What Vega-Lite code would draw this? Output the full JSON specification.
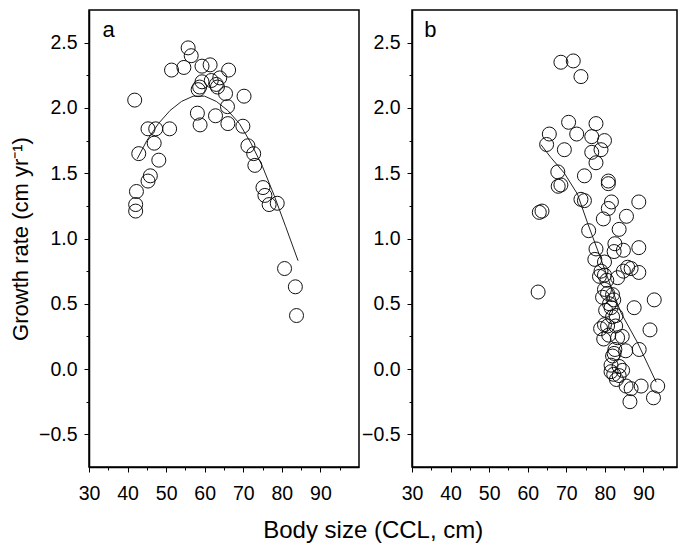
{
  "$schema": "https://vega.github.io/schema/vega-lite/v6.json",
  "background": "white",
  "padding": {"left": 8, "top": 9, "right": 0, "bottom": 0},
  "datasets": {
    "ptsA": [
      {"x": 41.85, "y": 2.06}, {"x": 55.7, "y": 2.46}, {"x": 56.5, "y": 2.40}, {"x": 51.4, "y": 2.29},
      {"x": 54.6, "y": 2.31}, {"x": 59.3, "y": 2.32}, {"x": 61.4, "y": 2.33}, {"x": 66.2, "y": 2.29},
      {"x": 63.9, "y": 2.23}, {"x": 61.7, "y": 2.21}, {"x": 59.3, "y": 2.20}, {"x": 58.7, "y": 2.16},
      {"x": 58.3, "y": 2.14}, {"x": 63.0, "y": 2.18}, {"x": 63.3, "y": 2.16}, {"x": 65.4, "y": 2.11},
      {"x": 70.2, "y": 2.09}, {"x": 65.9, "y": 2.01}, {"x": 58.1, "y": 1.96}, {"x": 58.8, "y": 1.87},
      {"x": 62.8, "y": 1.94}, {"x": 66.0, "y": 1.88}, {"x": 69.9, "y": 1.86}, {"x": 45.3, "y": 1.84},
      {"x": 47.3, "y": 1.84}, {"x": 50.9, "y": 1.84}, {"x": 46.9, "y": 1.73}, {"x": 42.9, "y": 1.65},
      {"x": 48.1, "y": 1.60}, {"x": 71.2, "y": 1.71}, {"x": 72.7, "y": 1.65}, {"x": 73.0, "y": 1.56},
      {"x": 45.9, "y": 1.48}, {"x": 45.3, "y": 1.44}, {"x": 42.3, "y": 1.36}, {"x": 42.1, "y": 1.26},
      {"x": 42.1, "y": 1.21}, {"x": 75.1, "y": 1.39}, {"x": 75.6, "y": 1.33}, {"x": 76.7, "y": 1.26},
      {"x": 78.8, "y": 1.27}, {"x": 80.7, "y": 0.77}, {"x": 83.5, "y": 0.63}, {"x": 83.8, "y": 0.41}
    ],
    "fitA": [
      {"x": 42.5, "y": 1.61}, {"x": 45, "y": 1.75}, {"x": 48, "y": 1.88}, {"x": 51, "y": 1.98},
      {"x": 54, "y": 2.05}, {"x": 57, "y": 2.09}, {"x": 60, "y": 2.09}, {"x": 63, "y": 2.05},
      {"x": 66, "y": 1.98}, {"x": 69, "y": 1.88}, {"x": 72, "y": 1.73}, {"x": 75, "y": 1.55},
      {"x": 78, "y": 1.33}, {"x": 81, "y": 1.09}, {"x": 84.2, "y": 0.83}
    ],
    "ptsB": [
      {"x": 68.6, "y": 2.35}, {"x": 71.8, "y": 2.36}, {"x": 73.8, "y": 2.24}, {"x": 70.6, "y": 1.89},
      {"x": 77.7, "y": 1.88}, {"x": 72.7, "y": 1.80}, {"x": 65.6, "y": 1.80}, {"x": 64.9, "y": 1.72},
      {"x": 76.6, "y": 1.78}, {"x": 79.9, "y": 1.75}, {"x": 69.5, "y": 1.68}, {"x": 79.0, "y": 1.68},
      {"x": 76.6, "y": 1.66}, {"x": 77.7, "y": 1.58}, {"x": 67.8, "y": 1.51}, {"x": 74.7, "y": 1.48},
      {"x": 80.9, "y": 1.44}, {"x": 80.9, "y": 1.42}, {"x": 67.9, "y": 1.40}, {"x": 68.6, "y": 1.41},
      {"x": 73.8, "y": 1.30}, {"x": 74.7, "y": 1.29}, {"x": 81.7, "y": 1.28}, {"x": 80.9, "y": 1.23},
      {"x": 88.8, "y": 1.28}, {"x": 63.0, "y": 1.20}, {"x": 63.7, "y": 1.21}, {"x": 85.6, "y": 1.17},
      {"x": 79.6, "y": 1.15}, {"x": 83.7, "y": 1.07}, {"x": 75.8, "y": 1.06}, {"x": 82.6, "y": 0.96},
      {"x": 77.7, "y": 0.92}, {"x": 84.8, "y": 0.91}, {"x": 88.8, "y": 0.93}, {"x": 82.4, "y": 0.90},
      {"x": 77.4, "y": 0.84}, {"x": 79.9, "y": 0.82}, {"x": 79.0, "y": 0.75}, {"x": 78.6, "y": 0.71},
      {"x": 79.9, "y": 0.72}, {"x": 83.3, "y": 0.70}, {"x": 85.9, "y": 0.78}, {"x": 86.8, "y": 0.77},
      {"x": 88.8, "y": 0.74}, {"x": 84.8, "y": 0.75}, {"x": 62.7, "y": 0.59}, {"x": 79.9, "y": 0.61},
      {"x": 80.7, "y": 0.58}, {"x": 82.0, "y": 0.57}, {"x": 79.4, "y": 0.55}, {"x": 82.3, "y": 0.53},
      {"x": 92.8, "y": 0.53}, {"x": 87.6, "y": 0.47}, {"x": 81.6, "y": 0.47}, {"x": 82.9, "y": 0.41},
      {"x": 82.0, "y": 0.40}, {"x": 79.9, "y": 0.34}, {"x": 78.9, "y": 0.31}, {"x": 91.7, "y": 0.30},
      {"x": 80.7, "y": 0.33}, {"x": 84.5, "y": 0.25}, {"x": 83.3, "y": 0.24}, {"x": 79.7, "y": 0.23},
      {"x": 82.6, "y": 0.15}, {"x": 88.9, "y": 0.15}, {"x": 85.4, "y": 0.14}, {"x": 82.4, "y": 0.12},
      {"x": 81.6, "y": 0.03}, {"x": 83.7, "y": 0.02}, {"x": 81.6, "y": -0.02}, {"x": 82.3, "y": -0.04},
      {"x": 84.6, "y": -0.01}, {"x": 83.7, "y": -0.05}, {"x": 85.5, "y": -0.13}, {"x": 86.8, "y": -0.15},
      {"x": 89.4, "y": -0.13}, {"x": 93.7, "y": -0.13}, {"x": 86.5, "y": -0.25}, {"x": 92.6, "y": -0.22},
      {"x": 80.5, "y": 0.68}, {"x": 81.2, "y": 0.50}, {"x": 80.2, "y": 0.45}, {"x": 82.8, "y": 0.33},
      {"x": 81.0, "y": 0.26}, {"x": 82.0, "y": 0.10}, {"x": 83.0, "y": -0.08}
    ],
    "fitB": [
      {"x": 63.4, "y": 1.72}, {"x": 66.0, "y": 1.62}, {"x": 69.5, "y": 1.50}, {"x": 72.9, "y": 1.34},
      {"x": 75.5, "y": 1.12}, {"x": 79.0, "y": 0.84}, {"x": 81.6, "y": 0.63}, {"x": 84.2, "y": 0.43},
      {"x": 88.5, "y": 0.20}, {"x": 93.3, "y": -0.10}
    ],
    "labA": [{"x": 33.5, "y": 2.54, "t": "a"}],
    "labB": [{"x": 33.2, "y": 2.54, "t": "b"}]
  },
  "config": {
    "font": "Liberation Sans",
    "view": {"stroke": "#000000", "strokeWidth": 1.5},
    "axis": {
      "grid": false,
      "domainColor": "#000000",
      "domainWidth": 1.5,
      "tickColor": "#000000",
      "tickWidth": 1,
      "tickSize": 5,
      "labelFont": "Liberation Sans",
      "labelFontSize": 19.5,
      "labelColor": "#000000",
      "labelFlush": false,
      "labelOverlap": false,
      "titleFont": "Liberation Sans",
      "titleFontSize": 22,
      "titleFontWeight": "normal",
      "titleColor": "#000000"
    },
    "axisX": {"labelPadding": 12},
    "axisY": {"labelPadding": 7}
  },
  "title": {
    "text": "Body size (CCL, cm)",
    "orient": "bottom",
    "anchor": "middle",
    "font": "Liberation Sans",
    "fontSize": 24,
    "fontWeight": "normal",
    "color": "#000000",
    "offset": 16,
    "dx": 30
  },
  "hconcat": [
    {
      "width": 270,
      "height": 457,
      "resolve": {"axis": {"x": "independent", "y": "independent"}},
      "layer": [
        {
          "data": {"name": "fitA"},
          "mark": {"type": "line", "color": "#222222", "strokeWidth": 1},
          "encoding": {
            "x": {"field": "x", "type": "quantitative", "scale": {"domain": [30, 100], "nice": false, "zero": false},
                  "axis": {"orient": "bottom", "values": [35, 45, 55, 65, 75, 85, 95], "labels": false, "domain": false, "tickSize": 3, "title": null}},
            "y": {"field": "y", "type": "quantitative", "scale": {"domain": [-0.75, 2.75], "nice": false, "zero": false},
                  "axis": {"orient": "left", "values": [-0.25, 0.25, 0.75, 1.25, 1.75, 2.25], "labels": false, "domain": false, "tickSize": 3, "title": null}}
          }
        },
        {
          "data": {"name": "ptsA"},
          "mark": {"type": "point", "shape": "circle", "filled": false, "stroke": "#111111", "strokeWidth": 1, "size": 196, "opacity": 1},
          "encoding": {
            "x": {"field": "x", "type": "quantitative",
                  "axis": {"orient": "bottom", "values": [30, 40, 50, 60, 70, 80, 90], "title": null}},
            "y": {"field": "y", "type": "quantitative",
                  "axis": {"orient": "left", "values": [-0.5, 0, 0.5, 1, 1.5, 2, 2.5], "format": ".1f", "title": "Growth rate (cm yr⁻¹)", "titlePadding": 6}}
          }
        },
        {
          "data": {"name": "labA"},
          "mark": {"type": "text", "align": "left", "baseline": "alphabetic", "fontSize": 22, "color": "#000000"},
          "encoding": {
            "x": {"field": "x", "type": "quantitative", "axis": null},
            "y": {"field": "y", "type": "quantitative", "axis": null},
            "text": {"field": "t"}
          }
        }
      ]
    },
    {
      "width": 265,
      "height": 457,
      "resolve": {"axis": {"x": "independent", "y": "independent"}},
      "layer": [
        {
          "data": {"name": "fitB"},
          "mark": {"type": "line", "color": "#222222", "strokeWidth": 1},
          "encoding": {
            "x": {"field": "x", "type": "quantitative", "scale": {"domain": [30, 98.7], "nice": false, "zero": false},
                  "axis": {"orient": "bottom", "values": [35, 45, 55, 65, 75, 85, 95], "labels": false, "domain": false, "tickSize": 3, "title": null}},
            "y": {"field": "y", "type": "quantitative", "scale": {"domain": [-0.75, 2.75], "nice": false, "zero": false},
                  "axis": {"orient": "left", "values": [-0.25, 0.25, 0.75, 1.25, 1.75, 2.25], "labels": false, "domain": false, "tickSize": 3, "title": null}}
          }
        },
        {
          "data": {"name": "ptsB"},
          "mark": {"type": "point", "shape": "circle", "filled": false, "stroke": "#111111", "strokeWidth": 1, "size": 196, "opacity": 1},
          "encoding": {
            "x": {"field": "x", "type": "quantitative",
                  "axis": {"orient": "bottom", "values": [30, 40, 50, 60, 70, 80, 90], "title": null}},
            "y": {"field": "y", "type": "quantitative",
                  "axis": {"orient": "left", "values": [-0.5, 0, 0.5, 1, 1.5, 2, 2.5], "format": ".1f", "title": null}}
          }
        },
        {
          "data": {"name": "labB"},
          "mark": {"type": "text", "align": "left", "baseline": "alphabetic", "fontSize": 22, "color": "#000000"},
          "encoding": {
            "x": {"field": "x", "type": "quantitative", "axis": null},
            "y": {"field": "y", "type": "quantitative", "axis": null},
            "text": {"field": "t"}
          }
        }
      ]
    }
  ],
  "bounds": "flush",
  "spacing": 53
}
